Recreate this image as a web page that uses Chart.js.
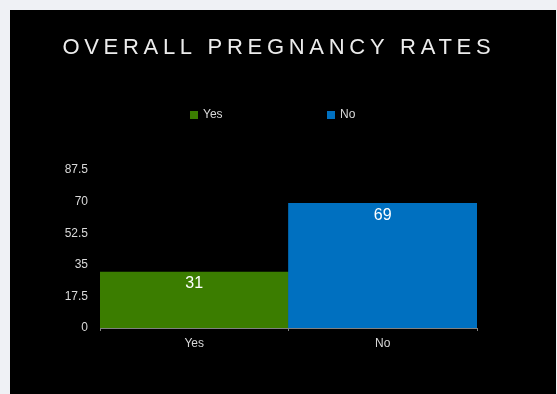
<!DOCTYPE html>
<html>
<head>
<meta charset="utf-8">
<script src="https://cdn.jsdelivr.net/npm/chart.js@4.4.0/dist/chart.umd.min.js"></script>
<style>
  html, body { margin: 0; padding: 0; background: #eff1f5; }
  #frame { position: absolute; left: 10px; top: 10px; width: 546px; height: 384px; background: #000; }
</style>
</head>
<body>
<div id="frame"><canvas id="chart"></canvas></div>
<script>
const categories = ["Yes", "No"];
const rates = [31, 69];
const barColors = ["#3b7d00", "#0070c0"];
const yTicks = [0, 17.5, 35, 52.5, 70, 87.5];
const titleText = "OVERALL PREGNANCY RATES";

const textColor = "#d9d9d9";
const fontFamily = "'Liberation Sans', Arial, sans-serif";

// title with wide letter spacing, drawn by hand
const titlePlugin = {
    id: "slideTitle",
    afterDraw(chart) {
        const ctx = chart.ctx;
        ctx.save();
        ctx.font = "22px " + fontFamily;
        ctx.letterSpacing = "4.7px";
        ctx.fillStyle = "#ececec";
        ctx.textBaseline = "middle";
        ctx.textAlign = "left";
        const w = ctx.measureText(titleText).width - 4.7;
        ctx.fillText(titleText, 266.5 - w / 2, 38);
        ctx.restore();
    }
};

// legend spread wide like the slide
const legendPlugin = {
    id: "slideLegend",
    afterDraw(chart) {
        const ctx = chart.ctx;
        const xs = [180, 317];
        ctx.save();
        ctx.font = "12px " + fontFamily;
        ctx.textBaseline = "middle";
        categories.forEach((label, i) => {
            ctx.fillStyle = barColors[i];
            ctx.fillRect(xs[i], 101, 8, 8);
            ctx.fillStyle = textColor;
            ctx.fillText(label, xs[i] + 13, 105);
        });
        ctx.restore();
    }
};

const valueLabels = {
    id: "valueLabels",
    afterDatasetsDraw(chart) {
        const ctx = chart.ctx;
        const meta = chart.getDatasetMeta(0);
        ctx.save();
        ctx.font = "16px " + fontFamily;
        ctx.fillStyle = "#ffffff";
        ctx.textAlign = "center";
        ctx.textBaseline = "middle";
        meta.data.forEach((bar, i) => {
            ctx.fillText(String(rates[i]), bar.x, bar.y + 12);
        });
        ctx.restore();
    }
};

new Chart(document.getElementById("chart"), {
    type: "bar",
    data: {
        labels: categories,
        datasets: [{
            label: "Pregnancy",
            data: rates,
            backgroundColor: barColors,
            borderWidth: 0,
            barPercentage: 1,
            categoryPercentage: 1
        }]
    },
    options: {
        responsive: true,
        maintainAspectRatio: false,
        animation: false,
        layout: { padding: { top: 160, left: 54, right: 79, bottom: 44 } },
        plugins: {
            legend: { display: false },
            title: { display: false },
            tooltip: { enabled: false }
        },
        scales: {
            x: {
                grid: { display: true, drawOnChartArea: false, drawTicks: true, tickLength: 3, color: "#808080" },
                border: { display: true, color: "#808080", width: 1 },
                ticks: { color: textColor, font: { size: 12, family: fontFamily }, padding: 5 },
                afterFit(axis) { axis.height = 22; }
            },
            y: {
                min: 0,
                max: 87.5,
                grid: { display: false, drawTicks: false },
                border: { display: false },
                afterBuildTicks(axis) { axis.ticks = yTicks.map(v => ({ value: v })); },
                ticks: {
                    color: textColor,
                    font: { size: 12, family: fontFamily },
                    padding: 12,
                    callback: v => String(v)
                },
                afterFit(axis) { axis.width = 36; }
            }
        }
    },
    plugins: [titlePlugin, legendPlugin, valueLabels]
});
</script>
</body>
</html>
